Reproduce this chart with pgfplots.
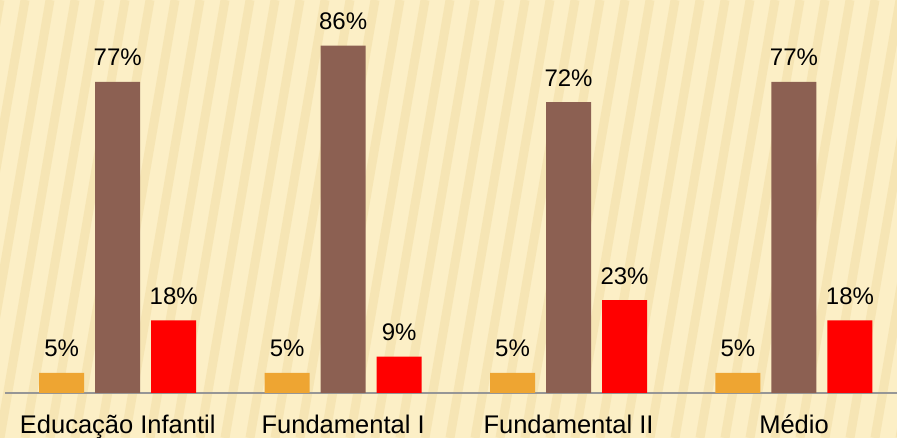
\documentclass[border=0pt]{standalone}
\usepackage{pgfplots}
\pgfplotsset{compat=1.18}
\usepackage{fontspec}
\setmainfont{Liberation Sans}
\definecolor{bgc}{RGB}{252,239,198}
\definecolor{stripe}{RGB}{236,212,148}
\definecolor{c1}{RGB}{238,165,50}
\definecolor{c2}{RGB}{140,96,82}
\definecolor{c3}{RGB}{255,0,0}
\definecolor{axc}{RGB}{150,150,150}
\begin{document}
\begin{tikzpicture}
\fill[bgc] (0,0) rectangle (897pt,438pt);
\begin{scope}
\clip (0,0) rectangle (897pt,438pt);
\foreach \i in {-5,...,40} {
  \draw[stripe, line width=9pt, opacity=0.35] ({\i*25pt},0) -- ({\i*25pt+75pt},438pt);
}
\end{scope}
\begin{axis}[
  at={(5pt,45pt)}, anchor=south west,
  scale only axis, width=892pt, height=393pt,
  ybar=11pt, bar width=45pt,
  xmin=-0.5, xmax=3.457, ymin=0, ymax=97.3,
  axis x line*=bottom, axis y line=none,
  x axis line style={draw=axc, line width=1.5pt},
  xtick=data, xticklabels={Educação Infantil,Fundamental I,Fundamental II,Médio},
  xtick style={draw=none},
  xticklabel style={anchor=base, yshift=-36pt, font=\fontsize{25.5}{30}\selectfont, text=black},
  /pgf/number format/assume math mode=true,
  nodes near coords={\pgfmathprintnumber{\pgfplotspointmeta}\%},
  every node near coord/.append style={anchor=base, inner sep=0pt, yshift=16pt, font=\fontsize{24}{28}\selectfont, text=black},
  clip=false,
]
\addplot[fill=c1, draw=none] coordinates {(0,5) (1,5) (2,5) (3,5)};
\addplot[fill=c2, draw=none] coordinates {(0,77) (1,86) (2,72) (3,77)};
\addplot[fill=c3, draw=none] coordinates {(0,18) (1,9) (2,23) (3,18)};
\end{axis}
\pgfresetboundingbox
\useasboundingbox (0,0) rectangle (897pt,438pt);
\end{tikzpicture}
\end{document}
